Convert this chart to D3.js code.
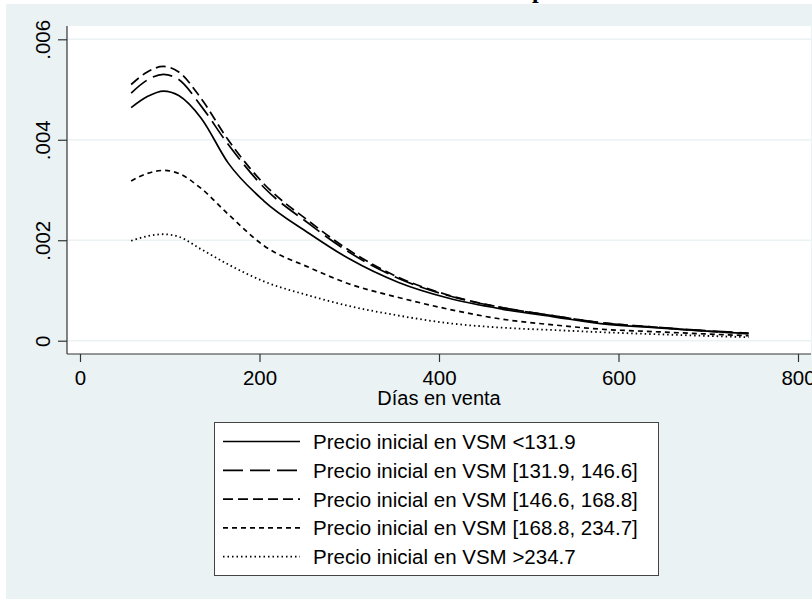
<!DOCTYPE html>
<html>
<head>
<meta charset="utf-8">
<script src="https://cdn.jsdelivr.net/npm/d3@7/dist/d3.min.js"></script>
<style>
  html, body { margin: 0; padding: 0; background: #ffffff; }
  svg { display: block; }
  .tick text { font-family: "Liberation Sans", Arial, sans-serif; font-size: 20.5px; fill: #000; }
  .tick line { stroke: #333; stroke-width: 1.2; }
</style>
</head>
<body>
<svg id="chart" width="812" height="599"></svg>
<script>
  "use strict";

  // Days on the market (x) shared by every curve
  var days = [57, 75, 93, 110, 135, 165, 205, 255, 300, 355, 410, 470, 530, 580, 640, 690, 745];

  // Smoothed hazard for each starting-price group
  var hazLow    = [.00464, .00486, .00497, .00488, .00443, .00354, .00278, .00214, .00163, .00116, .00085, .00063, .00047, .00034, .00026, .00020, .00014];
  var hazMidLow = [.00493, .00519, .00530, .00520, .00467, .00391, .00305, .00233, .00176, .00124, .00090, .00066, .00049, .00036, .00027, .00021, .00015];
  var hazMid    = [.00510, .00535, .00546, .00535, .00482, .00400, .00312, .00238, .00180, .00126, .00091, .00066, .00049, .00036, .00027, .00020, .00014];
  var hazMidHi  = [.00318, .00333, .00339, .00333, .00303, .00252, .00189, .00146, .00113, .00086, .00063, .00043, .00031, .00023, .00018, .00014, .00010];
  var hazHigh   = [.00199, .00208, .00212, .00207, .00182, .00152, .00118, .00090, .00069, .00050, .00035, .00026, .00021, .00017, .00013, .00010, .00007];

  var seriesLabels = [
    'Precio inicial en VSM <131.9',
    'Precio inicial en VSM [131.9, 146.6]',
    'Precio inicial en VSM [146.6, 168.8]',
    'Precio inicial en VSM [168.8, 234.7]',
    'Precio inicial en VSM >234.7'
  ];
  var seriesValues = [hazLow, hazMidLow, hazMid, hazMidHi, hazHigh];

  var xTicks = [0, 200, 400, 600, 800];
  var yTicks = [0, .002, .004, .006];
  var xTitle = 'Días en venta';
  var chartTitle = 'Hazard suavizado por VSM';

  // Line look for each group, Stata style
  var dashes = ['none', '20,7', '10,5', '5,4', '1.5,3'];
  var widths = [1.7, 1.7, 1.7, 1.7, 1.8];

  var svg = d3.select('#chart');

  // Graph region background
  svg.append('rect')
    .attr('x', 6).attr('y', 4)
    .attr('width', 806).attr('height', 595)
    .attr('fill', '#eaf2f3');

  // Title, mostly cut off at the top edge
  var title = svg.append('text')
    .attr('y', -2)
    .attr('font-family', '"Liberation Serif", "Times New Roman", serif')
    .attr('font-weight', 'bold')
    .attr('font-size', 24)
    .text(chartTitle);
  var pIndex = chartTitle.indexOf('p');
  var pOffset = title.node().getSubStringLength(0, pIndex);
  title.attr('x', 532 - pOffset);

  var plot = { left: 67, top: 26, right: 811, bottom: 354 };

  svg.append('rect')
    .attr('x', plot.left).attr('y', plot.top)
    .attr('width', plot.right - plot.left).attr('height', plot.bottom - plot.top)
    .attr('fill', '#ffffff');

  var x = d3.scaleLinear().domain([0, 800]).range([80, 798]);
  var y = d3.scaleLinear().domain([0, .006]).range([340.7, 39.3]);

  // Horizontal grid lines
  svg.append('g')
    .selectAll('line')
    .data(yTicks)
    .enter().append('line')
    .attr('x1', plot.left).attr('x2', plot.right)
    .attr('y1', function(d) { return y(d); })
    .attr('y2', function(d) { return y(d); })
    .attr('stroke', '#eaf2f3')
    .attr('stroke-width', 1.6);

  // Curves
  var line = d3.line()
    .x(function(d) { return x(d[0]); })
    .y(function(d) { return y(d[1]); })
    .curve(d3.curveMonotoneX);

  seriesValues.forEach(function(vals, i) {
    svg.append('path')
      .datum(d3.zip(days, vals))
      .attr('d', line)
      .attr('fill', 'none')
      .attr('stroke', '#000')
      .attr('stroke-width', widths[i])
      .attr('stroke-dasharray', dashes[i]);
  });

  // Axes
  var yAxis = svg.append('g')
    .attr('transform', 'translate(' + plot.left + ',0)')
    .call(d3.axisLeft(y).tickValues(yTicks).tickSize(9).tickPadding(0)
      .tickFormat(function(d) { return d === 0 ? '0' : d3.format('.3f')(d).replace(/^0/, ''); }));
  yAxis.select('.domain').remove();
  yAxis.selectAll('.tick text')
    .attr('transform', 'rotate(-90)')
    .attr('x', 0).attr('y', -17.5).attr('dy', 0)
    .attr('text-anchor', 'middle');

  var xAxis = svg.append('g')
    .attr('transform', 'translate(0,' + plot.bottom + ')')
    .call(d3.axisBottom(x).tickValues(xTicks).tickSize(8).tickFormat(d3.format('d')));
  xAxis.select('.domain').remove();
  xAxis.selectAll('.tick text').attr('y', 31).attr('dy', 0);

  svg.append('line')
    .attr('x1', plot.left).attr('x2', plot.left)
    .attr('y1', plot.top).attr('y2', plot.bottom)
    .attr('stroke', '#333').attr('stroke-width', 1.2);
  svg.append('line')
    .attr('x1', plot.left).attr('x2', plot.right)
    .attr('y1', plot.bottom).attr('y2', plot.bottom)
    .attr('stroke', '#333').attr('stroke-width', 1.2);

  svg.append('text')
    .attr('x', (plot.left + plot.right) / 2)
    .attr('y', 405)
    .attr('text-anchor', 'middle')
    .attr('font-family', '"Liberation Sans", Arial, sans-serif')
    .attr('font-size', 20)
    .text(xTitle);

  // Legend
  var legend = svg.append('g');
  legend.append('rect')
    .attr('x', 214.5).attr('y', 422.5)
    .attr('width', 444).attr('height', 153)
    .attr('fill', '#ffffff')
    .attr('stroke', '#444').attr('stroke-width', 1);

  var rows = legend.selectAll('g.row')
    .data(seriesLabels)
    .enter().append('g')
    .attr('class', 'row')
    .attr('transform', function(d, i) { return 'translate(0,' + (441.5 + i * 28.8) + ')'; });

  rows.append('line')
    .attr('x1', 223).attr('x2', 300)
    .attr('y1', 0).attr('y2', 0)
    .attr('stroke', '#000')
    .attr('stroke-width', function(d, i) { return widths[i]; })
    .attr('stroke-dasharray', function(d, i) { return dashes[i]; });

  rows.append('text')
    .attr('x', 313)
    .attr('y', 7.5)
    .attr('font-family', '"Liberation Sans", Arial, sans-serif')
    .attr('font-size', 20.5)
    .text(function(d) { return d; });
</script>
</body>
</html>
